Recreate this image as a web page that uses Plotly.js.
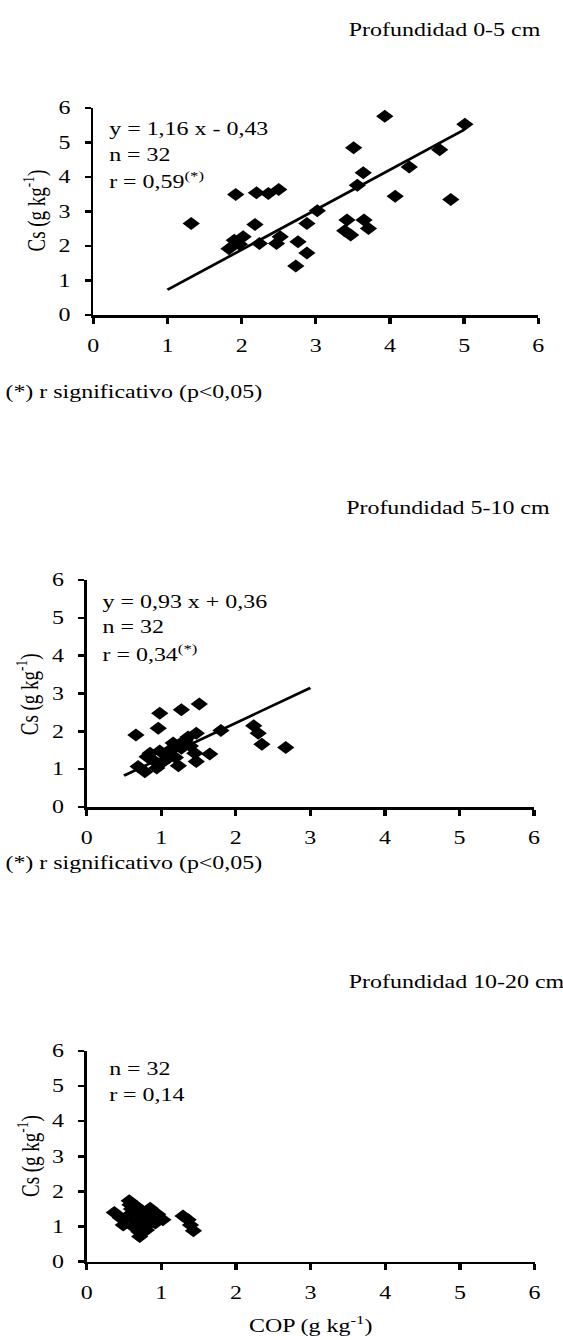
<!DOCTYPE html>
<html>
<head>
<meta charset="utf-8">
<script src="https://cdn.plot.ly/plotly-3.0.1.min.js"></script>
<style>
  html, body { margin: 0; padding: 0; background: #ffffff; overflow: hidden; }
  #chart { width: 423px; height: 1340px; transform: scaleX(1.331); transform-origin: 0 0; }
</style>
</head>
<body>
<div id="chart"></div>
<script>
// ---------- data ----------
const panelTitles = ["Profundidad 0-5 cm", "Profundidad 5-10 cm", "Profundidad 10-20 cm"];
const tickVals = [0, 1, 2, 3, 4, 5, 6];
const tickLabels = ["0", "1", "2", "3", "4", "5", "6"];

// Panel 1: 0-5 cm
const cop1 = [1.32, 1.92, 2.20, 2.36, 2.50, 2.18, 1.83, 1.90, 2.02, 1.97, 2.24, 2.47, 2.52, 2.76, 2.73, 2.88,
              2.88, 3.02, 3.42, 3.39, 3.47, 3.51, 3.64, 3.56, 3.65, 3.71, 3.93, 4.07, 4.26, 4.67, 4.82, 5.01];
const cs1  = [2.65, 3.49, 3.54, 3.52, 3.64, 2.62, 1.92, 2.17, 2.27, 2.05, 2.07, 2.07, 2.27, 2.12, 1.42, 1.80,
              2.65, 3.02, 2.75, 2.44, 2.32, 4.85, 4.12, 3.76, 2.75, 2.51, 5.76, 3.44, 4.29, 4.79, 3.35, 5.53];
const fit1X = [1, 5];
const fit1Y = [0.73, 5.37];
const stats1 = ["y = 1,16 x - 0,43", "n = 32", "r = 0,59<sup>(*)</sup>"];

// Panel 2: 5-10 cm
const cop2 = [0.66, 0.98, 0.96, 1.27, 1.51, 1.80, 2.24, 2.30, 2.35, 2.67, 0.69, 0.78, 0.85, 0.94, 1.03, 1.12,
              1.16, 1.23, 1.19, 1.32, 1.36, 1.47, 1.45, 1.47, 1.65, 0.98, 1.07, 0.89, 1.27, 1.39, 1.10, 0.81];
const cs2  = [1.90, 2.48, 2.08, 2.57, 2.72, 2.02, 2.15, 1.95, 1.66, 1.57, 1.07, 0.93, 1.42, 1.03, 1.20, 1.51,
              1.69, 1.09, 1.31, 1.77, 1.85, 1.95, 1.42, 1.20, 1.40, 1.48, 1.38, 1.24, 1.55, 1.61, 1.30, 1.33];
const fit2X = [0.5, 3.0];
const fit2Y = [0.83, 3.15];
const stats2 = ["y = 0,93 x + 0,36", "n = 32", "r = 0,34<sup>(*)</sup>"];

// Panel 3: 10-20 cm
const cop3 = [0.37, 0.57, 0.49, 0.71, 0.83, 1.02, 0.67, 0.76, 0.62, 0.89, 0.54, 0.71, 0.80, 0.92, 0.60, 0.65,
              0.74, 0.85, 0.95, 0.70, 0.58, 0.78, 0.68, 0.88, 0.63, 0.73, 0.82, 0.45, 1.29, 1.36, 1.39, 1.43];
const cs3  = [1.40, 1.73, 1.04, 0.71, 1.40, 1.19, 1.57, 1.09, 1.28, 1.28, 1.28, 1.38, 0.90, 1.10, 1.50, 1.15,
              1.20, 1.52, 1.35, 0.85, 1.62, 1.00, 1.45, 1.22, 0.98, 1.30, 1.05, 1.25, 1.30, 1.19, 1.04, 0.88];
const stats3 = ["n = 32", "r = 0,14"];

const yTitle = "Cs (g kg<sup>-1</sup>)";
const xTitle = "COP (g kg<sup>-1</sup>)";
const footnote = "(*) r significativo (p&lt;0,05)";

// ---------- layout helpers (page pixels -> paper fractions) ----------
const PW = 563, PH = 1340;
const fx = px => px / PW;
const fy = py => 1 - py / PH;
const FONT = "'Liberation Serif', 'Times New Roman', Times, serif";

function xAxis(anchor, x0, x1) {
  return {
    domain: [fx(x0), fx(x1)], anchor: anchor, range: [0, 6], fixedrange: true,
    tickmode: "array", tickvals: tickVals, ticktext: tickLabels,
    showline: true, linecolor: "#000", linewidth: 2.5, zeroline: false, showgrid: false,
    ticks: "outside", ticklen: 6, tickwidth: 2.5, tickcolor: "#000",
    ticklabelstandoff: 7,
    tickfont: {family: FONT, size: 18, color: "#000"}
  };
}
function yAxis(anchor, y0, y1) {
  return {
    domain: [fy(y0), fy(y1)], anchor: anchor, range: [0, 6], fixedrange: true,
    tickmode: "array", tickvals: tickVals, ticktext: tickLabels,
    showline: true, linecolor: "#000", linewidth: 2, zeroline: false, showgrid: false,
    ticks: "outside", ticklen: 4.5, tickwidth: 2.5, tickcolor: "#000",
    ticklabelstandoff: 7,
    tickfont: {family: FONT, size: 18, color: "#000"}
  };
}
function scatter(x, y, xa, ya) {
  return {x: x, y: y, xaxis: xa, yaxis: ya, type: "scatter", mode: "markers", cliponaxis: false,
          marker: {symbol: "diamond", size: 10, color: "#000", line: {width: 0}}, hoverinfo: "skip"};
}
function fit(x, y, xa, ya) {
  return {x: x, y: y, xaxis: xa, yaxis: ya, type: "scatter", mode: "lines",
          line: {color: "#000", width: 2.5}, hoverinfo: "skip"};
}
function txt(text, px, py, anchor, size, angle, yanchor) {
  return {text: text, xref: "paper", yref: "paper", x: fx(px), y: fy(py),
          xanchor: anchor || "left", yanchor: yanchor || "middle", showarrow: false,
          textangle: angle || 0, font: {family: FONT, size: size || 18, color: "#000"}};
}

const data = [
  scatter(cop1, cs1, "x", "y"), fit(fit1X, fit1Y, "x", "y"),
  scatter(cop2, cs2, "x2", "y2"), fit(fit2X, fit2Y, "x2", "y2"),
  scatter(cop3, cs3, "x3", "y3")
];

const annotations = [
  txt(panelTitles[0], 346, 30),
  txt(stats1[0], 106, 128.5, "left", 18),
  txt(stats1[1], 106, 155, "left", 18),
  txt(stats1[2], 106, 181, "left", 18),
  txt(yTitle, 34, 211, "center", 19, -90),
  txt(footnote, 3, 392),

  txt(panelTitles[1], 343, 508),
  txt(stats2[0], 99.5, 601.5, "left", 18),
  txt(stats2[1], 99.5, 627, "left", 18),
  txt(stats2[2], 99.5, 653.5, "left", 18),
  txt(yTitle, 27, 694, "center", 19, -90),
  txt(footnote, 3, 863),

  txt(panelTitles[2], 346, 982),
  txt(stats3[0], 106, 1068.5, "left", 18),
  txt(stats3[1], 106, 1095, "left", 18),
  txt(yTitle, 28, 1156, "center", 19, -90),
  txt(xTitle, 311, 1339, "center", 18, 0, "bottom")
];

const layout = {
  width: 423, height: 1340, autosize: false,
  margin: {l: 0, r: 0, t: 0, b: 0, pad: 0},
  paper_bgcolor: "#fff", plot_bgcolor: "#fff",
  showlegend: false,
  font: {family: FONT, size: 18, color: "#000"},
  xaxis: xAxis("y", 93.3, 538.3),
  yaxis: yAxis("x", 315, 108),
  xaxis2: xAxis("y2", 86.7, 534),
  yaxis2: yAxis("x2", 807, 580),
  xaxis3: xAxis("y3", 86.7, 534.5),
  yaxis3: yAxis("x3", 1261.5, 1051),
  annotations: annotations
};

Plotly.newPlot("chart", data, layout, {staticPlot: true, displayModeBar: false});
</script>
</body>
</html>
